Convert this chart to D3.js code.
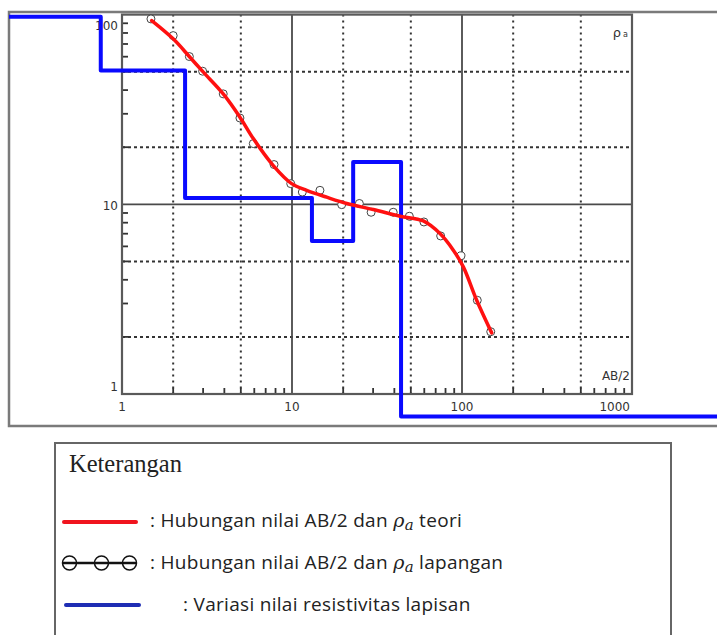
<!DOCTYPE html>
<html>
<head>
<meta charset="utf-8">
<script src="https://cdn.jsdelivr.net/npm/d3@7"></script>
<style>
  body { margin: 0; background: #fff; }
</style>
</head>
<body>
<script>
//field data (AB/2, rho_a)
var fieldAB = [1.48, 2.0, 2.49, 2.98, 3.94, 4.94, 5.92, 7.84, 9.83, 11.5, 14.6, 19.6, 24.9, 29.2, 39.4, 49.0, 59.7, 74.9, 98.6, 123, 147.6];
var fieldRho = [94.9, 77.5, 60.1, 50.3, 38.2, 28.5, 20.9, 16.2, 12.85, 11.6, 11.85, 9.96, 10.1, 9.08, 9.08, 8.65, 8.07, 6.81, 5.35, 3.12, 2.13];

//theoretical curve
var teoriAB = [1.495, 2.0, 2.51, 3.01, 3.94, 4.94, 5.92, 7.76, 9.95, 12.2, 16.0, 21.0, 30.1, 43.2, 59.2, 74.2, 88.9, 101.8, 122, 149.5];
var teoriRho = [93.0, 74.5, 59.6, 49.7, 38.2, 28.8, 22.2, 16.0, 12.85, 11.85, 10.9, 10.1, 9.38, 8.65, 8.17, 7.01, 5.73, 4.68, 3.12, 2.10];

//layer model: resistivity of each layer and depth of its bottom
var layerRho = [97.5, 50.7, 10.8, 6.4, 16.7, 0.76];
var layerDepth = [0.75, 2.35, 13.1, 22.9, 43.8];

var xTicks = [1, 10, 100, 1000];
var yTicks = [1, 10, 100];

var width = 717, height = 635;
var axisFont = "DejaVu Sans, sans-serif";

var svg = d3.select("body").append("svg")
    .attr("width", width)
    .attr("height", height);

//outer frame of the graph picture
var frame = {left: 9, top: 12, bottom: 426};
svg.append("path")
    .attr("d", "M" + (width + 5) + "," + frame.top + "H" + frame.left + "V" + frame.bottom + "H" + (width + 5))
    .attr("fill", "none")
    .attr("stroke", "#7a7a7a")
    .attr("stroke-width", 2.5);

var x = d3.scaleLog().domain([1, 1000]).range([122, 632]);
var y = d3.scaleLog().domain([1, 100]).range([394, 14.6]);

//grid: dotted at 2 and 5, solid at decades
function minor(domain, m) {
    var out = [];
    for (var d = domain[0]; d < domain[1]; d *= 10) {
        m.forEach(function(k){ out.push(d * k); });
    }
    return out;
}
var grid = svg.append("g");
grid.selectAll(".vdot").data(minor(x.domain(), [2, 5])).enter()
    .append("line")
    .attr("x1", d => x(d)).attr("x2", d => x(d))
    .attr("y1", y(100)).attr("y2", y(1))
    .attr("stroke", "#333").attr("stroke-width", 2)
    .attr("stroke-dasharray", "2,4");
grid.selectAll(".hdot").data(minor(y.domain(), [2, 5])).enter()
    .append("line")
    .attr("y1", d => y(d)).attr("y2", d => y(d))
    .attr("x1", x(1)).attr("x2", x(1000))
    .attr("stroke", "#333").attr("stroke-width", 2)
    .attr("stroke-dasharray", "3,3");
grid.selectAll(".vsol").data([10, 100]).enter()
    .append("line")
    .attr("x1", d => x(d)).attr("x2", d => x(d))
    .attr("y1", y(100)).attr("y2", y(1))
    .attr("stroke", "#4a4a4a").attr("stroke-width", 1.8);
grid.selectAll(".hsol").data([10]).enter()
    .append("line")
    .attr("y1", d => y(d)).attr("y2", d => y(d))
    .attr("x1", x(1)).attr("x2", x(1000))
    .attr("stroke", "#4a4a4a").attr("stroke-width", 1.8);

//minor ticks inside the box
grid.selectAll(".xt").data(minor(x.domain(), [2, 3, 4, 5, 6, 7, 8, 9])).enter()
    .append("line")
    .attr("x1", d => x(d)).attr("x2", d => x(d))
    .attr("y1", y(1)).attr("y2", y(1) - 6)
    .attr("stroke", "#333").attr("stroke-width", 1.8);
grid.selectAll(".yt").data(minor(y.domain(), [2, 3, 4, 5, 6, 7, 8, 9])).enter()
    .append("line")
    .attr("y1", d => y(d)).attr("y2", d => y(d))
    .attr("x1", x(1)).attr("x2", x(1) + 6)
    .attr("stroke", "#333").attr("stroke-width", 1.8);

//plot border
svg.append("rect")
    .attr("x", x(1)).attr("y", y(100))
    .attr("width", x(1000) - x(1)).attr("height", y(1) - y(100))
    .attr("fill", "none")
    .attr("stroke", "#5a5a5a").attr("stroke-width", 2.2);

//tick labels
svg.selectAll(".xl").data(xTicks).enter()
    .append("text")
    .attr("x", d => d == 1000 ? x(d) - 2 : x(d))
    .attr("y", y(1) + 17)
    .attr("text-anchor", d => d == 1000 ? "end" : "middle")
    .attr("font-family", axisFont)
    .attr("font-size", 12).attr("fill", "#333")
    .text(d => d);
svg.selectAll(".yl").data(yTicks).enter()
    .append("text")
    .attr("x", x(1) - 4)
    .attr("y", d => Math.min(Math.max(y(d) + 6, 30), y(1) - 3))
    .attr("text-anchor", "end")
    .attr("font-family", axisFont)
    .attr("font-size", 12).attr("fill", "#333")
    .text(d => d);

svg.append("text")
    .attr("x", x(1000) - 2).attr("y", y(1) - 14)
    .attr("text-anchor", "end")
    .attr("font-family", axisFont)
    .attr("font-size", 12).attr("fill", "#333")
    .text("AB/2");
var rl = svg.append("text")
    .attr("x", x(1000) - 4).attr("y", y(100) + 22)
    .attr("text-anchor", "end")
    .attr("font-family", axisFont)
    .attr("font-size", 13).attr("fill", "#333");
rl.append("tspan").text("ρ");
rl.append("tspan").attr("font-size", 8).attr("dx", 2).text("a");

//layer model step line, runs out to the picture frame
var steps = [[x.invert(frame.left), layerRho[0]]];
layerDepth.forEach(function(dep, i){
    steps.push([dep, layerRho[i]]);
    steps.push([dep, layerRho[i + 1]]);
});
steps.push([x.invert(width + 5), layerRho[layerRho.length - 1]]);

svg.append("path")
    .datum(steps)
    .attr("fill", "none")
    .attr("stroke", "#0a0aff")
    .attr("stroke-width", 4)
    .attr("stroke-linejoin", "round")
    .attr("d", d3.line().x(d => x(d[0])).y(d => y(d[1])));

//field points
svg.selectAll(".pt").data(fieldAB).enter()
    .append("circle")
    .attr("cx", d => x(d))
    .attr("cy", (d, i) => y(fieldRho[i]))
    .attr("r", 4)
    .attr("fill", "#fff")
    .attr("stroke", "#444")
    .attr("stroke-width", 1);

//theoretical curve
svg.append("path")
    .datum(teoriAB.map((d, i) => [d, teoriRho[i]]))
    .attr("fill", "none")
    .attr("stroke", "#ff1010")
    .attr("stroke-width", 3.5)
    .attr("stroke-linecap", "round")
    .attr("d", d3.line().x(d => x(d[0])).y(d => y(d[1])).curve(d3.curveCatmullRom));

//legend
var lg = svg.append("g");
lg.append("rect")
    .attr("x", 55).attr("y", 443)
    .attr("width", 616).attr("height", 220)
    .attr("fill", "#fff")
    .attr("stroke", "#666").attr("stroke-width", 2);
lg.append("text")
    .attr("x", 69).attr("y", 472)
    .attr("font-family", "Liberation Serif, serif")
    .attr("font-size", 24.5).attr("fill", "#222")
    .text("Keterangan");

var rows = [
    {text: ["Hubungan nilai AB/2 dan ", " teori"], y: 522, x: 150},
    {text: ["Hubungan nilai AB/2 dan ", " lapangan"], y: 564, x: 150},
    {text: ["Variasi nilai resistivitas lapisan"], y: 606, x: 183}
];

lg.append("line").attr("x1", 64).attr("x2", 136).attr("y1", 522).attr("y2", 522)
    .attr("stroke", "#f0141e").attr("stroke-width", 4).attr("stroke-linecap", "round");
lg.append("line").attr("x1", 62).attr("x2", 137).attr("y1", 563).attr("y2", 563)
    .attr("stroke", "#111").attr("stroke-width", 2.5);
lg.selectAll(".lc").data([69.5, 101.5, 129.5]).enter()
    .append("circle")
    .attr("cx", d => d).attr("cy", 563).attr("r", 7)
    .attr("fill", "none").attr("stroke", "#111").attr("stroke-width", 1.5);
lg.append("line").attr("x1", 66).attr("x2", 139).attr("y1", 605).attr("y2", 605)
    .attr("stroke", "#1e2db4").attr("stroke-width", 4).attr("stroke-linecap", "round");

rows.forEach(function(r){
    var t = lg.append("text")
        .attr("x", r.x).attr("y", r.y + 5)
        .attr("font-family", "Open Sans, sans-serif")
        .attr("font-size", 19).attr("letter-spacing", 0.3).attr("fill", "#222");
    t.append("tspan").text(": " + r.text[0]);
    if (r.text.length > 1) {
        t.append("tspan").attr("font-family", "DejaVu Serif, serif").attr("font-style", "italic").text("ρ");
        t.append("tspan").attr("font-family", "DejaVu Serif, serif").attr("font-style", "italic")
            .attr("font-size", 15).attr("dy", 3).text("a");
        t.append("tspan").attr("dy", -3).text(r.text[1]);
    }
});
</script>
</body>
</html>
